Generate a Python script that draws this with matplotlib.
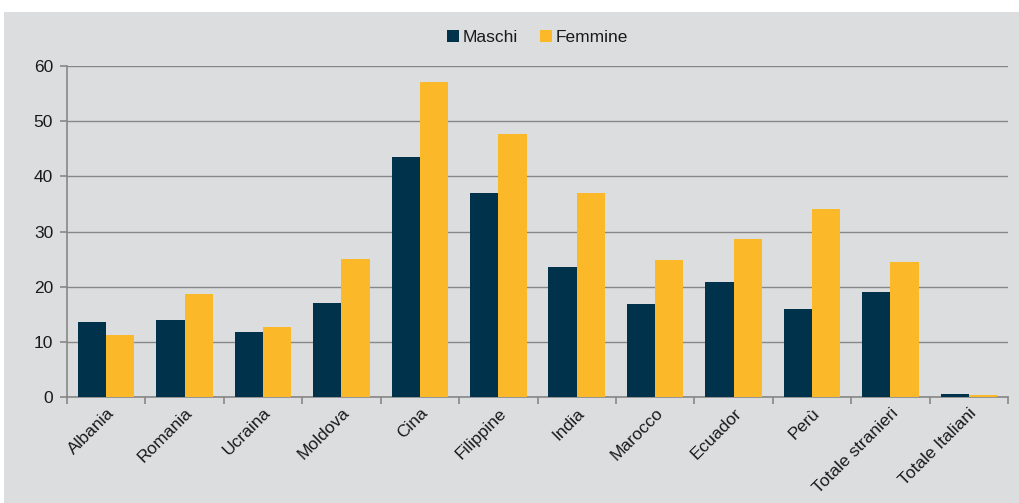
import matplotlib.pyplot as plt
import numpy as np
from matplotlib.patches import Rectangle

plt.rcParams["font.family"] = ["Liberation Sans", "DejaVu Sans"]

categories = ["Albania", "Romania", "Ucraina", "Moldova", "Cina", "Filippine",
              "India", "Marocco", "Ecuador", "Perù", "Totale stranieri", "Totale Italiani"]
maschi = [13.6, 13.9, 11.8, 17.0, 43.5, 37.0, 23.6, 16.8, 20.8, 15.9, 19.0, 0.6]
femmine = [11.2, 18.7, 12.7, 25.0, 57.1, 47.6, 37.0, 24.8, 28.6, 34.1, 24.5, 0.4]

bg = "#DCDDDF"
navy = "#00324B"
gold = "#FBB829"
grid_c = "#878787"
txt = "#1a1a1a"

fig = plt.figure(figsize=(10.19, 5.03), dpi=100, facecolor="white")
fig.patches.append(Rectangle((4 / 1019, 0), 1 - 4 / 1019, 1 - 12 / 503,
                             transform=fig.transFigure, facecolor=bg,
                             edgecolor="none", zorder=-10))

ax = fig.add_axes([67 / 1019, 1 - 397 / 503, 941 / 1019, 331 / 503])
ax.set_facecolor(bg)

x = np.arange(len(categories))
w = 0.36
ax.bar(x - w / 2, maschi, w, color=navy, label="Maschi", zorder=3)
ax.bar(x + w / 2, femmine, w, color=gold, label="Femmine", zorder=3)

ax.set_xlim(-0.5, len(categories) - 0.5)
ax.set_ylim(0, 60)
ax.set_yticks(range(0, 61, 10))
ax.yaxis.grid(True, color=grid_c, linewidth=1.0, zorder=0)
ax.set_axisbelow(True)

for s in ["top", "right"]:
    ax.spines[s].set_visible(False)
for s in ["left", "bottom"]:
    ax.spines[s].set_color(grid_c)
    ax.spines[s].set_linewidth(1.2)

ax.set_xticks(np.arange(-0.5, len(categories)), minor=False)
ax.set_xticklabels([])
ax.set_xticks(x, minor=True)
ax.set_xticklabels(categories, minor=True, rotation=45, ha="right",
                   rotation_mode="anchor", fontsize=12.5, color=txt)
ax.tick_params(axis="x", which="major", length=5, color=grid_c, width=1.2)
ax.tick_params(axis="x", which="minor", length=0, pad=6)
ax.tick_params(axis="y", length=5, color=grid_c, width=1.2, labelsize=12.5,
               labelcolor=txt, pad=5)

leg = ax.legend(loc="upper center", bbox_to_anchor=(0.5, 1.155), ncol=2,
                frameon=False, fontsize=12.5, handlelength=0.7, handleheight=0.7,
                handletextpad=0.2, columnspacing=1.3)
for t in leg.get_texts():
    t.set_color(txt)

fig.savefig("out.png", dpi=100, facecolor=fig.get_facecolor())
